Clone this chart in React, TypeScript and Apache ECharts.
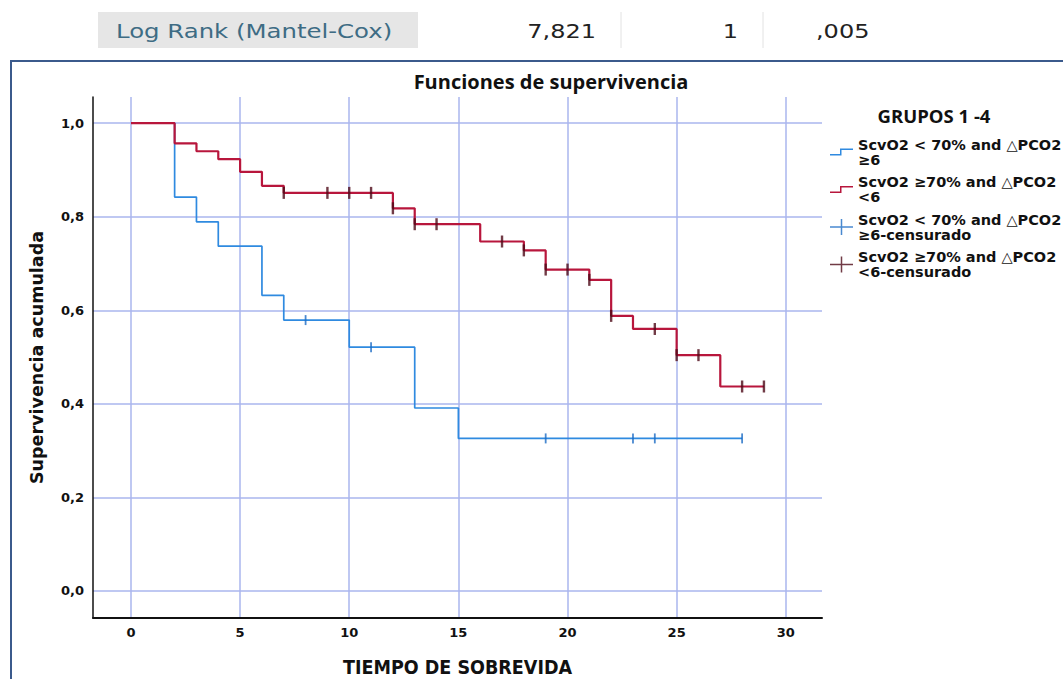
import React, { useEffect, useRef } from "react";
import * as echarts from "echarts";

// ---- Data ----
const blueTimes = [0, 2, 3, 4, 6, 7, 10, 13, 15, 28];
const blueSurv = [1.0, 0.842, 0.789, 0.737, 0.632, 0.579, 0.521, 0.391, 0.326, 0.326];
const blueCensorTimes = [8, 11, 19, 23, 24, 28];

const redTimes = [0, 2, 3, 4, 5, 6, 7, 12, 13, 16, 18, 19, 21, 22, 23, 25, 27, 29];
const redSurv = [1.0, 0.957, 0.94, 0.923, 0.896, 0.866, 0.851, 0.818, 0.784, 0.747, 0.728, 0.687, 0.665, 0.588, 0.56, 0.504, 0.437, 0.437];
const redCensorTimes = [7, 9, 10, 11, 12, 13, 14, 17, 18, 19, 20, 21, 22, 24, 25, 26, 28, 29];

const xTickValues = [0, 5, 10, 15, 20, 25, 30];
const yTickValues = [0, 0.2, 0.4, 0.6, 0.8, 1.0];

const seriesNames = [
  "ScvO2 < 70% and △PCO2\n≥6",
  "ScvO2 ≥70% and △PCO2\n<6",
  "ScvO2 < 70% and △PCO2\n≥6-censurado",
  "ScvO2 ≥70% and △PCO2\n<6-censurado",
];

const headerLabel = "Log Rank (Mantel-Cox)";
const headerStats = ["7,821", "1", ",005"];

// ---- Helpers ----
function stepAt(times: number[], surv: number[], t: number) {
  let v = surv[0];
  for (let i = 0; i < times.length; i++) if (times[i] <= t) v = surv[i];
  return v;
}
const pairs = (xs: number[], ys: number[]) => xs.map((x, i) => [x, ys[i]]);

const BLUE = "#2f8ae0";
const RED = "#b8163c";
const RED_CENSOR = "#4e0a18";
const BLUE_CENSOR = "#1c6cc4";
const GRID = "#aab6ee";

const stepIcon =
  "path://M0,10 L10,10 L10,4.5 L23,4.5 L23,6 L11.5,6 L11.5,11.5 L0,11.5 Z M0,0 L0.02,0 L0.02,0.02 Z M0,16 L0.02,16 L0.02,15.98 Z";
const plusIcon =
  "path://M0,7.25 L23,7.25 L23,8.75 L0,8.75 Z M10.75,0 L12.25,0 L12.25,16 L10.75,16 Z";

export default function App() {
  const ref = useRef<HTMLDivElement>(null);
  useEffect(() => {
    document.body.style.margin = "0";
    const chart = echarts.init(ref.current!, null, { renderer: "svg" });
    const option: any = {
      animation: false,
      backgroundColor: "#ffffff",
      title: [
        {
          text: "Funciones de supervivencia",
          left: 546,
          top: 66,
          textAlign: "center",
          textStyle: { fontFamily: "Open Sans", fontWeight: "bold", fontSize: 20, color: "#111" },
        },
        {
          text: "GRUPOS 1 -4",
          left: 929,
          top: 101,
          textAlign: "center",
          textStyle: { fontFamily: "Open Sans", fontWeight: "bold", fontSize: 18.5, color: "#111" },
        },
      ],
      legend: {
        orient: "vertical",
        left: 830,
        top: 137,
        padding: 0,
        itemWidth: 23,
        itemHeight: 16,
        itemGap: 7.5,
        textStyle: { fontFamily: "DejaVu Sans", fontWeight: "bold", fontSize: 14.5, lineHeight: 15, color: "#111" },
        data: [
          { name: seriesNames[0], icon: stepIcon },
          { name: seriesNames[1], icon: stepIcon },
          { name: seriesNames[2], icon: plusIcon },
          { name: seriesNames[3], icon: plusIcon },
        ],
      },
      grid: { left: 93, top: 97, right: 241, bottom: 61, containLabel: false, outerBoundsMode: "none" },
      xAxis: {
        type: "value",
        min: -1.74,
        max: 31.66,
        name: "TIEMPO DE SOBREVIDA",
        nameLocation: "middle",
        nameGap: 39,
        nameTextStyle: { fontFamily: "Liberation Sans Narrow, DejaVu Sans Condensed", fontWeight: "bold", fontSize: 19.5, color: "#111" },
        axisLine: { show: true, onZero: false, lineStyle: { color: "#111", width: 2 } },
        axisTick: { show: false, customValues: xTickValues },
        axisLabel: {
          customValues: xTickValues,
          formatter: (v: number) => String(v),
          fontFamily: "DejaVu Sans",
          fontWeight: "bold",
          fontSize: 13,
          color: "#111",
          margin: 8,
        },
        splitLine: { show: true, lineStyle: { color: GRID, width: 1.5 } },
      },
      yAxis: {
        type: "value",
        min: -0.058,
        max: 1.056,
        name: "Supervivencia acumulada",
        nameLocation: "middle",
        nameGap: 47,
        nameTextStyle: { fontFamily: "DejaVu Sans", fontWeight: "bold", fontSize: 17.5, color: "#111" },
        axisLine: { show: true, onZero: false, lineStyle: { color: "#111", width: 1.5 } },
        axisTick: { show: false, customValues: yTickValues },
        axisLabel: {
          customValues: yTickValues,
          formatter: (v: number) => v.toFixed(1).replace(".", ","),
          fontFamily: "DejaVu Sans",
          fontWeight: "bold",
          fontSize: 13,
          color: "#111",
          margin: 9,
        },
        splitLine: { show: true, lineStyle: { color: GRID, width: 1.5 } },
      },
      series: [
        {
          name: seriesNames[0],
          type: "line",
          step: "end",
          data: pairs(blueTimes, blueSurv),
          showSymbol: false,
          color: BLUE,
          lineStyle: { color: BLUE, width: 1.7 },
          z: 3,
        },
        {
          name: seriesNames[1],
          type: "line",
          step: "end",
          data: pairs(redTimes, redSurv),
          showSymbol: false,
          color: RED,
          lineStyle: { color: RED, width: 2.2 },
          z: 4,
        },
        {
          name: seriesNames[2],
          type: "scatter",
          data: blueCensorTimes.map((t) => [t, stepAt(blueTimes, blueSurv, t)]),
          symbol: "rect",
          symbolSize: [1.8, 10],
          color: BLUE_CENSOR,
          itemStyle: { color: BLUE_CENSOR },
          z: 5,
        },
        {
          name: seriesNames[3],
          type: "scatter",
          data: redCensorTimes.map((t) => [t, stepAt(redTimes, redSurv, t)]),
          symbol: "rect",
          symbolSize: [2.4, 12],
          color: RED_CENSOR,
          itemStyle: { color: RED_CENSOR },
          z: 6,
        },
      ],
      graphic: [
        {
          type: "polyline",
          shape: { points: [[11, 679], [11, 61], [1063, 61]] },
          style: { stroke: "#3b5a8c", lineWidth: 2, fill: "none" },
          silent: true,
        },
        {
          type: "rect",
          shape: { x: 98, y: 12, width: 320, height: 36 },
          style: { fill: "#e6e6e6" },
          silent: true,
        },
        {
          type: "line",
          shape: { x1: 621, y1: 12, x2: 621, y2: 48 },
          style: { stroke: "#e2e2e2", lineWidth: 1 },
        },
        {
          type: "line",
          shape: { x1: 763, y1: 12, x2: 763, y2: 48 },
          style: { stroke: "#e2e2e2", lineWidth: 1 },
        },
        {
          type: "text",
          x: 116,
          y: 31,
          scaleX: 1.22,
          style: { text: headerLabel, fill: "#3e6c84", font: "20px 'DejaVu Sans'", verticalAlign: "middle", align: "left" },
        },
        {
          type: "text",
          x: 596,
          y: 31,
          scaleX: 1.2,
          style: { text: headerStats[0], fill: "#222", font: "20px 'DejaVu Sans'", verticalAlign: "middle", align: "right" },
        },
        {
          type: "text",
          x: 738,
          y: 31,
          scaleX: 1.2,
          style: { text: headerStats[1], fill: "#222", font: "20px 'DejaVu Sans'", verticalAlign: "middle", align: "right" },
        },
        {
          type: "text",
          x: 816,
          y: 31,
          scaleX: 1.2,
          style: { text: headerStats[2], fill: "#222", font: "20px 'DejaVu Sans'", verticalAlign: "middle", align: "left" },
        },
      ],
    };
    chart.setOption(option);
    return () => chart.dispose();
  }, []);
  return <div ref={ref} style={{ width: 1063, height: 679 }} />;
}
